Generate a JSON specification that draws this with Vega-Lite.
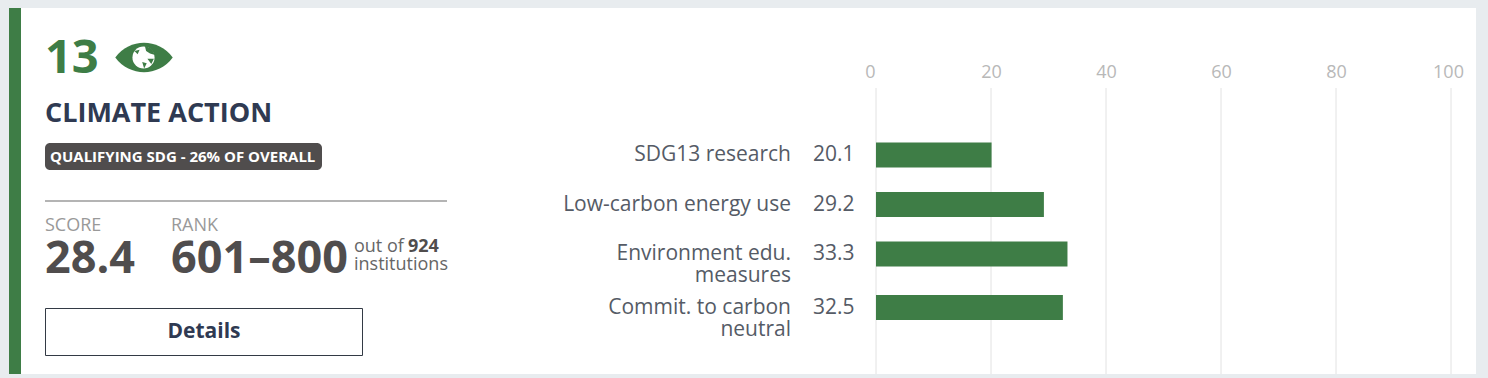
{"$schema":"https://vega.github.io/schema/vega-lite/v6.json","width":1455,"height":366,"autosize":{"type":"none"},"padding":{"left":21,"top":8,"right":12,"bottom":4},"background":"#e8ecef","view":{"fill":"#ffffff","stroke":null},"config":{"text":{"font":"Open Sans","align":"left","baseline":"alphabetic"}},"resolve":{"scale":{"x":"independent","y":"independent"}},"layer":[
{"data":{"values":[{"t":"stripe"}]},"mark":{"type":"rule","color":"#3e7d46","strokeWidth":12},"encoding":{"x":{"field":"t","type":"nominal","axis":null,"scale":{"type":"point","domain":["stripe"],"range":[-6,-6]}}}},
{"data":{"values":[{"t":0,"a":"top","b":"bottom"}]},"mark":{"type":"rule","color":"#e2e2e2","strokeWidth":1},"encoding":{"x":{"field":"t","type":"quantitative","scale":{"domain":[0,100],"range":[855,1430]},"axis":{"orient":"top","values":[0],"offset":-69,"labelOffset":-6,"labelFlush":false,"labelPadding":0,"ticks":false,"domain":false,"grid":false,"title":null,"labelFont":"Open Sans","labelFontSize":18,"labelColor":"#b8b8b8","labelBaseline":"alphabetic"}},"y":{"field":"a","type":"nominal","axis":null,"scale":{"type":"point","domain":["top","bottom"],"range":[80,366],"padding":0}},"y2":{"field":"b"}}},
{"data":{"values":[{"t":20,"a":"top","b":"bottom"},{"t":40,"a":"top","b":"bottom"},{"t":60,"a":"top","b":"bottom"},{"t":80,"a":"top","b":"bottom"}]},"mark":{"type":"rule","color":"#e2e2e2","strokeWidth":1},"encoding":{"x":{"field":"t","type":"quantitative","scale":{"domain":[0,100],"range":[855,1430]},"axis":{"orient":"top","values":[20,40,60,80],"offset":-69,"labelOffset":0,"labelFlush":false,"labelPadding":0,"ticks":false,"domain":false,"grid":false,"title":null,"labelFont":"Open Sans","labelFontSize":18,"labelColor":"#b8b8b8","labelBaseline":"alphabetic"}},"y":{"field":"a","type":"nominal","axis":null,"scale":{"type":"point","domain":["top","bottom"],"range":[80,366],"padding":0}},"y2":{"field":"b"}}},
{"data":{"values":[{"t":100,"a":"top","b":"bottom"}]},"mark":{"type":"rule","color":"#e2e2e2","strokeWidth":1},"encoding":{"x":{"field":"t","type":"quantitative","scale":{"domain":[0,100],"range":[855,1430]},"axis":{"orient":"top","values":[100],"offset":-69,"labelOffset":-3,"labelFlush":false,"labelPadding":0,"ticks":false,"domain":false,"grid":false,"title":null,"labelFont":"Open Sans","labelFontSize":18,"labelColor":"#b8b8b8","labelBaseline":"alphabetic"}},"y":{"field":"a","type":"nominal","axis":null,"scale":{"type":"point","domain":["top","bottom"],"range":[80,366],"padding":0}},"y2":{"field":"b"}}},
{"data":{"values":[{"metric":"SDG13 research","score":20.1},{"metric":"Low-carbon energy use","score":29.2},{"metric":"Environment edu. measures","score":33.3}]},"mark":{"type":"bar","color":"#3e7d46","size":25},"encoding":{"x":{"field":"score","type":"quantitative","axis":null,"scale":{"domain":[0,100],"range":[855,1430]}},"y":{"field":"metric","type":"nominal","axis":null,"scale":{"type":"point","domain":["SDG13 research","Low-carbon energy use","Environment edu. measures"],"range":[147,246],"padding":0}}}},
{"data":{"values":[{"metric":"Commit. to carbon neutral","score":32.5}]},"mark":{"type":"bar","color":"#3e7d46","size":25},"encoding":{"x":{"field":"score","type":"quantitative","axis":null,"scale":{"domain":[0,100],"range":[855,1430]}},"y":{"field":"metric","type":"nominal","axis":null,"scale":{"type":"point","domain":["Commit. to carbon neutral"],"range":[299.5,299.5]}}}},
{"data":{"values":[{"metric":"SDG13 research","label":"SDG13 research"},{"metric":"Low-carbon energy use","label":"Low-carbon energy use"},{"metric":"Environment edu. measures","label":"Environment edu.\nmeasures"}]},"mark":{"type":"text","align":"right","fontSize":21,"color":"#555b66","lineBreak":"\n","lineHeight":22,"dy":6},"encoding":{"text":{"field":"label"},"x":{"field":"metric","type":"nominal","axis":null,"scale":{"type":"point","domain":["SDG13 research","Low-carbon energy use","Environment edu. measures"],"range":[770,770],"padding":0}},"y":{"field":"metric","type":"nominal","axis":null,"scale":{"type":"point","domain":["SDG13 research","Low-carbon energy use","Environment edu. measures"],"range":[147,246],"padding":0}}}},
{"data":{"values":[{"metric":"Commit. to carbon neutral","label":"Commit. to carbon\nneutral"}]},"mark":{"type":"text","align":"right","fontSize":21,"color":"#555b66","lineBreak":"\n","lineHeight":22,"dy":6},"encoding":{"text":{"field":"label"},"x":{"field":"metric","type":"nominal","axis":null,"scale":{"type":"point","domain":["Commit. to carbon neutral"],"range":[770,770]}},"y":{"field":"metric","type":"nominal","axis":null,"scale":{"type":"point","domain":["Commit. to carbon neutral"],"range":[299.5,299.5]}}}},
{"data":{"values":[{"metric":"SDG13 research","score":20.1},{"metric":"Low-carbon energy use","score":29.2},{"metric":"Environment edu. measures","score":33.3}]},"mark":{"type":"text","align":"right","fontSize":21,"color":"#555b66","dy":6},"encoding":{"text":{"field":"score","type":"quantitative","format":".1f"},"x":{"field":"metric","type":"nominal","axis":null,"scale":{"type":"point","domain":["SDG13 research","Low-carbon energy use","Environment edu. measures"],"range":[833.5,833.5],"padding":0}},"y":{"field":"metric","type":"nominal","axis":null,"scale":{"type":"point","domain":["SDG13 research","Low-carbon energy use","Environment edu. measures"],"range":[147,246],"padding":0}}}},
{"data":{"values":[{"metric":"Commit. to carbon neutral","score":32.5}]},"mark":{"type":"text","align":"right","fontSize":21,"color":"#555b66","dy":6},"encoding":{"text":{"field":"score","type":"quantitative","format":".1f"},"x":{"field":"metric","type":"nominal","axis":null,"scale":{"type":"point","domain":["Commit. to carbon neutral"],"range":[833.5,833.5]}},"y":{"field":"metric","type":"nominal","axis":null,"scale":{"type":"point","domain":["Commit. to carbon neutral"],"range":[299.5,299.5]}}}},
{"data":{"values":[{"t":"13"}]},"mark":{"type":"text","fontSize":47,"fontWeight":700,"color":"#3e7d46"},"encoding":{"text":{"field":"t"},"x":{"field":"t","type":"nominal","axis":null,"scale":{"type":"point","domain":["13"],"range":[24,24]}},"y":{"field":"t","type":"nominal","axis":null,"scale":{"type":"point","domain":["13"],"range":[65,65]}}}},
{"data":{"values":[{"t":"eye"}]},"mark":{"type":"point","filled":true,"opacity":1,"color":"#3e7d46","size":3300,"shape":"M-1,0 C-0.5,-0.68 0.5,-0.68 1,0 C0.5,0.68 -0.5,0.68 -1,0 Z"},"encoding":{"x":{"field":"t","type":"nominal","axis":null,"scale":{"type":"point","domain":["eye"],"range":[123,123]}},"y":{"field":"t","type":"nominal","axis":null,"scale":{"type":"point","domain":["eye"],"range":[49.5,49.5]}}}},
{"data":{"values":[{"t":"globe"}]},"mark":{"type":"point","filled":true,"opacity":1,"color":"#ffffff","size":490,"shape":"circle"},"encoding":{"x":{"field":"t","type":"nominal","axis":null,"scale":{"type":"point","domain":["globe"],"range":[122.5,122.5]}},"y":{"field":"t","type":"nominal","axis":null,"scale":{"type":"point","domain":["globe"],"range":[49.5,49.5]}}}},
{"data":{"values":[{"t":"land"}]},"mark":{"type":"point","filled":true,"opacity":1,"color":"#3e7d46","size":676,"shape":"M0.1,-0.9 L0.6,-0.7 L0.9,-0.2 L0.5,-0.3 L0.2,-0.5 Z M-0.7,-0.5 L-0.3,-0.6 L-0.45,-0.25 Z M0.3,0.1 L0.8,0.1 L0.6,0.5 Z M-0.1,0.35 L0.25,0.45 L0.05,0.85 Z"},"encoding":{"x":{"field":"t","type":"nominal","axis":null,"scale":{"type":"point","domain":["land"],"range":[122.5,122.5]}},"y":{"field":"t","type":"nominal","axis":null,"scale":{"type":"point","domain":["land"],"range":[49.5,49.5]}}}},
{"data":{"values":[{"t":"CLIMATE ACTION"}]},"mark":{"type":"text","fontSize":27,"fontWeight":700,"color":"#2f3a52"},"encoding":{"text":{"field":"t"},"x":{"field":"t","type":"nominal","axis":null,"scale":{"type":"point","domain":["CLIMATE ACTION"],"range":[24,24]}},"y":{"field":"t","type":"nominal","axis":null,"scale":{"type":"point","domain":["CLIMATE ACTION"],"range":[114,114]}}}},
{"data":{"values":[{"a":"start","b":"end"}]},"mark":{"type":"rect","color":"#504d4d","cornerRadius":5},"encoding":{"x":{"field":"a","type":"nominal","axis":null,"scale":{"type":"point","domain":["start","end"],"range":[24,301],"padding":0}},"x2":{"field":"b"},"y":{"field":"a","type":"nominal","axis":null,"scale":{"type":"point","domain":["start","end"],"range":[135,162],"padding":0}},"y2":{"field":"b"}}},
{"data":{"values":[{"t":"QUALIFYING SDG - 26% OF OVERALL"}]},"mark":{"type":"text","fontSize":15,"fontWeight":700,"color":"#ffffff"},"encoding":{"text":{"field":"t"},"x":{"field":"t","type":"nominal","axis":null,"scale":{"type":"point","domain":["QUALIFYING SDG - 26% OF OVERALL"],"range":[29,29]}},"y":{"field":"t","type":"nominal","axis":null,"scale":{"type":"point","domain":["QUALIFYING SDG - 26% OF OVERALL"],"range":[154,154]}}}},
{"data":{"values":[{"a":"start","b":"end"}]},"mark":{"type":"rule","color":"#b4b4b4","strokeWidth":2},"encoding":{"x":{"field":"a","type":"nominal","axis":null,"scale":{"type":"point","domain":["start","end"],"range":[24,426],"padding":0}},"x2":{"field":"b"},"y":{"field":"a","type":"nominal","axis":null,"scale":{"type":"point","domain":["start"],"range":[193,193]}}}},
{"data":{"values":[{"t":"SCORE"},{"t":"RANK"}]},"mark":{"type":"text","fontSize":18,"color":"#999999"},"encoding":{"text":{"field":"t"},"x":{"field":"t","type":"nominal","axis":null,"scale":{"type":"point","domain":["SCORE","RANK"],"range":[24,150],"padding":0}},"y":{"field":"t","type":"nominal","axis":null,"scale":{"type":"point","domain":["SCORE","RANK"],"range":[223,223],"padding":0}}}},
{"data":{"values":[{"t":"28.4"},{"t":"601–800"}]},"mark":{"type":"text","fontSize":45,"fontWeight":700,"color":"#504d4d"},"encoding":{"text":{"field":"t"},"x":{"field":"t","type":"nominal","axis":null,"scale":{"type":"point","domain":["28.4","601–800"],"range":[24,150],"padding":0}},"y":{"field":"t","type":"nominal","axis":null,"scale":{"type":"point","domain":["28.4","601–800"],"range":[265,265],"padding":0}}}},
{"data":{"values":[{"t":"out of "},{"t":"institutions"}]},"mark":{"type":"text","fontSize":18,"color":"#666666"},"encoding":{"text":{"field":"t"},"x":{"field":"t","type":"nominal","axis":null,"scale":{"type":"point","domain":["out of ","institutions"],"range":[333,333],"padding":0}},"y":{"field":"t","type":"nominal","axis":null,"scale":{"type":"point","domain":["out of ","institutions"],"range":[244,262],"padding":0}}}},
{"data":{"values":[{"t":"924"}]},"mark":{"type":"text","fontSize":18,"fontWeight":700,"color":"#504d4d"},"encoding":{"text":{"field":"t"},"x":{"field":"t","type":"nominal","axis":null,"scale":{"type":"point","domain":["924"],"range":[387,387]}},"y":{"field":"t","type":"nominal","axis":null,"scale":{"type":"point","domain":["924"],"range":[244,244]}}}},
{"data":{"values":[{"a":"start","b":"end"}]},"mark":{"type":"rect","fill":"#ffffff","stroke":"#333a45","strokeWidth":1},"encoding":{"x":{"field":"a","type":"nominal","axis":null,"scale":{"type":"point","domain":["start","end"],"range":[24.5,341.5],"padding":0}},"x2":{"field":"b"},"y":{"field":"a","type":"nominal","axis":null,"scale":{"type":"point","domain":["start","end"],"range":[300.5,347.5],"padding":0}},"y2":{"field":"b"}}},
{"data":{"values":[{"t":"Details"}]},"mark":{"type":"text","align":"center","fontSize":21,"fontWeight":700,"color":"#2f3a52"},"encoding":{"text":{"field":"t"},"x":{"field":"t","type":"nominal","axis":null,"scale":{"type":"point","domain":["Details"],"range":[183,183]}},"y":{"field":"t","type":"nominal","axis":null,"scale":{"type":"point","domain":["Details"],"range":[330,330]}}}}
]}
